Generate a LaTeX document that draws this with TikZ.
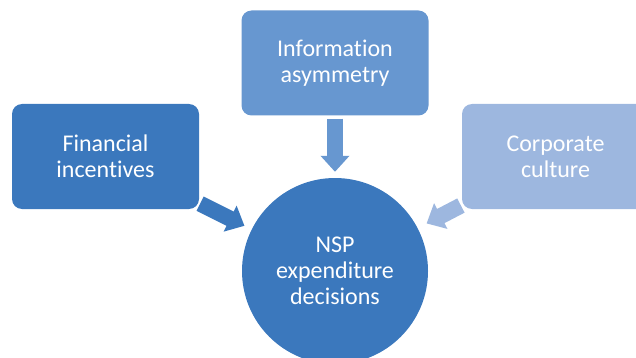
\documentclass[tikz,border=0pt]{standalone}
\usepackage{fontspec}
\setmainfont[Ligatures=NoCommon]{Carlito}
\usetikzlibrary{arrows.meta}
\definecolor{bleuA}{HTML}{3B78BD}
\definecolor{bleuB}{HTML}{6797D0}
\definecolor{bleuC}{HTML}{9DB7DF}
\begin{document}
\begin{tikzpicture}[x=1pt,y=-1pt,
  boite/.style={rounded corners=10pt, minimum width=187pt, minimum height=105pt, inner sep=0pt,
    text=white, align=center, font=\fontsize{24}{26}\selectfont},
  fleche/.style={line width=16pt, -{Triangle[length=16pt,width=28pt]}}]
  \clip (0,0) rectangle (636,358);
  % Boites
  \node[boite, fill=bleuA] (fin) at (105.5,156.5) {Financial\\incentives};
  \node[boite, fill=bleuB] (info) at (335,63) {Information\\asymmetry};
  \node[boite, fill=bleuC] (cult) at (555.5,156.5) {Corporate\\culture};

  % Cercle central
  \node[circle, fill=bleuA, minimum size=186pt, inner sep=0pt, text=white, align=center,
    font=\fontsize{24}{26}\selectfont] (nsp) at (335,271) {NSP\\expenditure\\decisions};

  % Fleches vers le cercle
  \draw[fleche, bleuA, shorten <=1pt, shorten >=8pt] (fin) -- (nsp);
  \draw[fleche, bleuB, shorten <=3pt, shorten >=6pt] (info) -- (nsp);
  \draw[fleche, bleuC, shorten <=1pt, shorten >=10pt] (cult) -- (nsp);
\end{tikzpicture}
\end{document}
